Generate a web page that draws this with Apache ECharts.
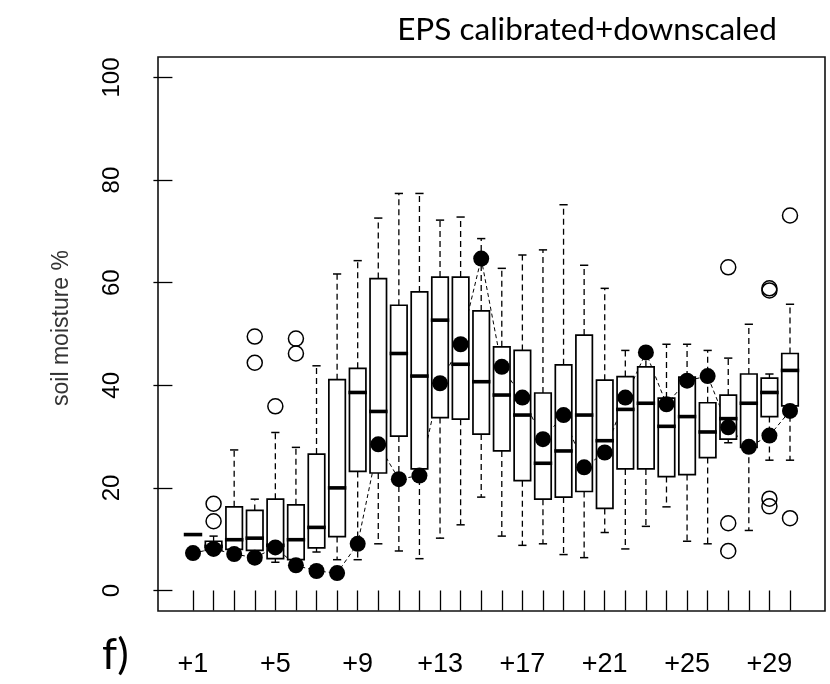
<!DOCTYPE html>
<html>
<head>
<meta charset="utf-8">
<script src="https://cdn.jsdelivr.net/npm/echarts@6/dist/echarts.min.js"></script>
<style>
  html, body { margin: 0; padding: 0; background: #fff; }
  #chart { width: 830px; height: 684px; }
</style>
</head>
<body>
<div id="chart"></div>
<script>
// Lead days of the forecast (+1 ... +30)
const days = [1,2,3,4,5,6,7,8,9,10,11,12,13,14,15,16,17,18,19,20,21,22,23,24,25,26,27,28,29,30];
const labelDays = [1,5,9,13,17,21,25,29];
const yTicks = [0,20,40,60,80,100];

// Box statistics of the ensemble (soil moisture %)
const whiskerLow  = [10.9, 7.0, 6.5, 6.0, 5.5, 5.0, 7.5, 6.0, 6.0, 9.1, 7.7, 6.2, 10.2, 12.8, 18.2, 10.6, 8.8, 9.1, 7.0, 6.4, 11.3, 8.1, 12.5, 16.3, 9.6, 9.1, 28.8, 11.7, 25.4, 25.4];
const lowerQuart  = [10.9, 7.8, 8.0, 7.8, 6.2, 6.0, 8.3, 10.5, 23.2, 22.9, 30.1, 23.7, 33.7, 33.4, 30.5, 27.2, 21.4, 17.8, 18.2, 19.3, 16.0, 23.7, 23.7, 22.2, 22.6, 25.9, 29.5, 27.9, 33.9, 36.0];
const medians     = [10.9, 8.6, 9.9, 10.2, 8.8, 9.9, 12.3, 20.0, 38.6, 34.9, 46.2, 41.8, 52.7, 44.1, 40.7, 38.1, 34.2, 24.8, 27.2, 34.2, 29.2, 35.3, 36.5, 32.0, 33.9, 30.9, 33.5, 36.5, 38.6, 42.9];
const upperQuart  = [10.9, 9.6, 16.3, 15.6, 17.8, 16.7, 26.6, 41.1, 43.3, 60.8, 55.6, 58.2, 61.1, 61.1, 54.5, 47.5, 46.8, 38.5, 44.0, 49.8, 41.0, 41.7, 43.6, 37.5, 41.6, 36.6, 38.1, 42.2, 41.4, 46.2];
const whiskerHigh = [10.9, 10.6, 27.4, 17.8, 30.8, 27.9, 43.8, 61.7, 64.3, 72.6, 77.4, 77.4, 72.2, 72.8, 68.6, 62.8, 65.4, 66.4, 75.2, 63.4, 58.9, 46.8, 47.0, 48.0, 48.0, 46.8, 45.3, 51.9, 42.2, 55.8];

// Observed soil moisture for each lead day
const observed = [7.3, 8.1, 7.1, 6.4, 8.4, 4.9, 3.8, 3.4, 9.1, 28.5, 21.7, 22.4, 40.4, 48.0, 64.7, 43.6, 37.6, 29.5, 34.2, 24.0, 26.9, 37.6, 46.4, 36.3, 40.9, 41.8, 31.8, 28.0, 30.2, 35.0];

// Outlying ensemble members: lead day and value
const outlierDays   = [2, 2, 4, 4, 5, 6, 6, 27, 27, 27, 29, 29, 29, 29, 30, 30];
const outlierValues = [16.9, 13.5, 49.5, 44.4, 35.9, 49.1, 46.2, 63.0, 13.1, 7.7, 58.5, 58.9, 17.9, 16.4, 73.1, 14.1];

const boxData = days.map((d, i) => [d, whiskerLow[i], lowerQuart[i], medians[i], upperQuart[i], whiskerHigh[i]]);
const obsData = days.map((d, i) => [d, observed[i]]);
const outData = outlierDays.map((d, i) => [d, outlierValues[i]]);

const chart = echarts.init(document.getElementById('chart'), null, { renderer: 'canvas' });

function renderBox(params, api) {
  const x = api.value(0);
  const lo = api.coord([x, api.value(1)]);
  const q1 = api.coord([x, api.value(2)]);
  const md = api.coord([x, api.value(3)]);
  const q3 = api.coord([x, api.value(4)]);
  const hi = api.coord([x, api.value(5)]);
  const unit = api.size([1, 0])[0];
  const bw = unit * 0.8;
  const sw = bw * 0.5;
  const cx = lo[0];
  const children = [];
  const dash = { stroke: '#000', lineWidth: 1.3, lineDash: [6, 4] };
  const solid = { stroke: '#000', lineWidth: 1.5 };
  if (Math.abs(q1[1] - q3[1]) > 0.5) {
    // whiskers and staples
    children.push({ type: 'line', shape: { x1: cx, y1: q3[1], x2: cx, y2: hi[1] }, style: dash });
    children.push({ type: 'line', shape: { x1: cx, y1: q1[1], x2: cx, y2: lo[1] }, style: dash });
    children.push({ type: 'line', shape: { x1: cx - sw / 2, y1: hi[1], x2: cx + sw / 2, y2: hi[1] }, style: solid });
    children.push({ type: 'line', shape: { x1: cx - sw / 2, y1: lo[1], x2: cx + sw / 2, y2: lo[1] }, style: solid });
    // interquartile box
    children.push({
      type: 'rect',
      shape: { x: cx - bw / 2, y: q3[1], width: bw, height: q1[1] - q3[1] },
      style: { fill: '#fff', stroke: '#000', lineWidth: 1.7 }
    });
  }
  // median bar
  children.push({
    type: 'line',
    shape: { x1: cx - bw / 2 - 1, y1: md[1], x2: cx + bw / 2 + 1, y2: md[1] },
    style: { stroke: '#000', lineWidth: 3.6 }
  });
  return { type: 'group', children };
}

const font = '"Liberation Sans", Arial, sans-serif';

chart.setOption({
  animation: false,
  backgroundColor: '#fff',
  grid: {
    left: 158, top: 57, width: 667, height: 554,
    show: true, borderColor: '#111', borderWidth: 1.6, backgroundColor: 'transparent'
  },
  xAxis: {
    type: 'value',
    min: -0.7, max: 31.7,
    splitLine: { show: false },
    axisLine: { show: false },
    axisTick: {
      show: true, customValues: days, length: 20, inside: false,
      lineStyle: { color: '#000', width: 1.3 }
    },
    axisLabel: {
      customValues: labelDays,
      formatter: v => '+' + v,
      fontFamily: font, fontSize: 27, color: '#000', margin: 40
    }
  },
  yAxis: {
    type: 'value',
    min: -4, max: 104,
    splitLine: { show: false },
    axisLine: { show: false },
    axisTick: {
      show: true, customValues: yTicks, length: 19, inside: false,
      lineStyle: { color: '#000', width: 1.3 }
    },
    axisLabel: {
      customValues: yTicks,
      rotate: 90,
      fontFamily: font, fontSize: 24, color: '#000', margin: 34
    }
  },
  graphic: [
    {
      type: 'text', x: 587, y: 30, z: 10,
      style: {
        text: 'EPS calibrated+downscaled',
        font: '31.5px Lato, "Open Sans", sans-serif',
        fill: '#000', textAlign: 'center', textVerticalAlign: 'middle'
      }
    },
    {
      type: 'text', x: 62, y: 328, rotation: Math.PI / 2, z: 10,
      style: {
        text: 'soil moisture %',
        font: '23px "Liberation Sans", Arial, sans-serif',
        fill: '#333', textAlign: 'center', textVerticalAlign: 'middle'
      }
    },
    {
      type: 'text', x: 102, y: 655, z: 10,
      style: {
        text: 'f)',
        font: '43px Lato, "Open Sans", sans-serif',
        fill: '#000', textAlign: 'left', textVerticalAlign: 'middle'
      }
    }
  ],
  series: [
    {
      name: 'observed line',
      type: 'line',
      data: obsData,
      symbol: 'none',
      lineStyle: { color: '#000', width: 1, type: [4, 3] },
      z: 1,
      silent: true
    },
    {
      name: 'ensemble',
      type: 'custom',
      data: boxData,
      renderItem: renderBox,
      encode: { x: 0, y: [1, 2, 3, 4, 5] },
      z: 2,
      silent: true
    },
    {
      name: 'outliers',
      type: 'scatter',
      data: outData,
      symbol: 'circle',
      symbolSize: 15,
      itemStyle: { color: 'rgba(0,0,0,0)', borderColor: '#000', borderWidth: 1.5, opacity: 1 },
      z: 3,
      silent: true
    },
    {
      name: 'observed',
      type: 'scatter',
      data: obsData,
      symbol: 'circle',
      symbolSize: 16,
      itemStyle: { color: '#000', opacity: 1 },
      z: 4,
      silent: true
    }
  ]
});
</script>
</body>
</html>
